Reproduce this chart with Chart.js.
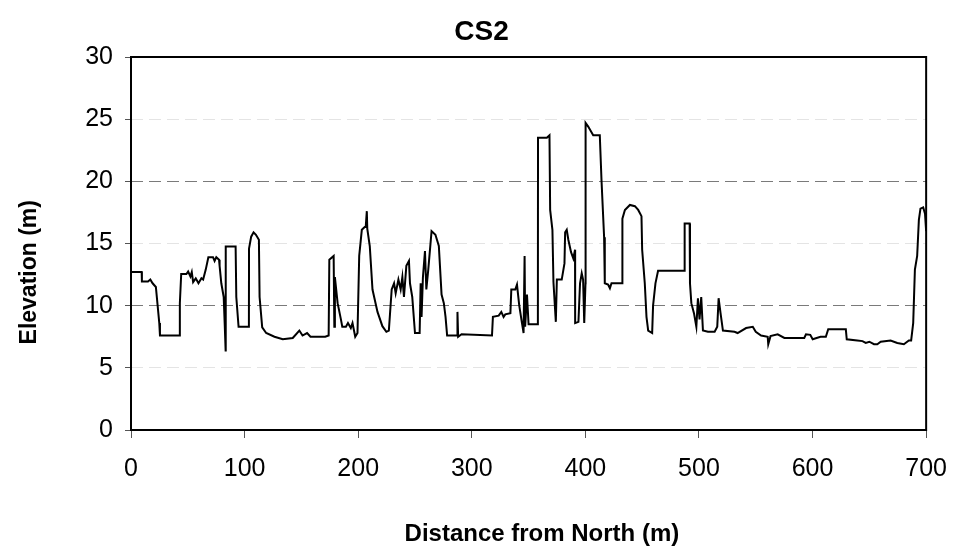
<!DOCTYPE html>
<html>
<head>
<meta charset="utf-8">
<script src="https://cdn.jsdelivr.net/npm/chart.js@4.4.1/dist/chart.umd.min.js"></script>
<style>
  html, body { margin: 0; padding: 0; background: #fff; }
  #wrap { width: 963px; height: 558px; }
</style>
</head>
<body>
<div id="wrap"><canvas id="myChart" width="963" height="558"></canvas></div>
<script>
// Cross-section profile
const chartTitle = 'CS2';
const xTitle = 'Distance from North (m)';
const yTitle = 'Elevation (m)';
const xTicks = [0, 100, 200, 300, 400, 500, 600, 700];
const yTicks = [0, 5, 10, 15, 20, 25, 30];

const distance = [
  0, 9.4, 9.6, 15, 17, 19, 21.9, 24.9, 25.5, 42.4, 43, 44.2, 48.8, 50.3, 52.3, 53.5, 54.7, 57, 59.4, 62,
  63.5, 65.8, 68.1, 72.2, 73.6, 75.1, 77.5, 78, 79.5, 81.6, 82.5, 83.3, 83.4, 92.1, 92.7, 94.7, 103.8, 103.9, 105.8, 107.9,
  110, 112.6, 113.2, 115.5, 119, 126.3, 133.6, 142.4, 148.2, 151, 155, 158, 171, 174, 174.6, 178.4, 179, 179.5, 181.9, 184.8,
  186, 189.2, 191, 193.5, 195, 197.4, 199.4, 200.9, 203.2, 206.7, 207.6, 208, 210.2, 212.6, 217, 221.3, 224.8, 227, 229.5, 231.6,
  233, 235.4, 237.4, 238.9, 240.3, 242.4, 244.7, 245.6, 247.6, 250, 254.1, 255, 255.8, 257, 258.8, 260, 261.7, 264.6, 268, 271,
  273.4, 275.4, 276.9, 278.3, 287, 287.4, 288, 291, 317.8, 318.6, 323.7, 326, 328, 329.5, 334, 334.8, 338.3, 339.8, 341.8, 344.2,
  345.6, 346.5, 347, 348.6, 350, 358.2, 358.3, 366.1, 368.4, 369, 371, 371.9, 374, 374.9, 379.2, 381.6, 382.2, 383.6, 385, 387.4,
  389.4, 390.9, 391, 393.9, 395.3, 396.8, 398, 399, 400.1, 400.2, 402.5, 406.9, 412.7, 414.2, 416.5, 417.1, 420, 421.6, 423, 432.5,
  432.6, 434.8, 439.2, 443.6, 446.5, 449.4, 450, 452.3, 453.8, 455.3, 458.8, 459.6, 461.7, 464, 486.9, 487.4, 491.8, 492.1, 493.3, 495.6,
  497.7, 499.1, 500.5, 502, 503.5, 507.9, 513.8, 516.1, 517.3, 519, 521.1, 531.3, 534, 541.5, 547.4, 550, 554.7, 560.5, 561, 563,
  569.3, 575.2, 592.7, 594.2, 598, 600.1, 607, 611.7, 613.8, 629.3, 630.1, 639.4, 644, 646.8, 650, 654.1, 657, 660, 668.7, 674.6,
  680.4, 684.8, 686.8, 688.6, 690.1, 692.1, 693.6, 695, 697.4, 699, 700
];
const elevation = [
  12.7, 12.7, 11.95, 11.95, 12.1, 11.8, 11.5, 8.6, 7.6, 7.6, 10.2, 12.55, 12.55, 12.75, 12.35, 12.7, 11.9, 12.2, 11.8, 12.2,
  12.1, 12.9, 13.9, 13.9, 13.6, 13.9, 13.7, 13.2, 11.8, 10.7, 8.5, 6.4, 14.75, 14.75, 10.7, 8.3, 8.3, 14.6, 15.55, 15.9,
  15.7, 15.3, 10.7, 8.25, 7.8, 7.5, 7.3, 7.4, 8.0, 7.6, 7.8, 7.5, 7.5, 7.6, 13.7, 14.0, 8.3, 12.3, 10.2, 8.9,
  8.3, 8.3, 8.6, 8.2, 8.6, 7.5, 7.8, 14.0, 16.1, 16.4, 17.6, 16.2, 14.8, 11.3, 9.5, 8.35, 7.9, 8.0, 11.3, 11.8,
  11.0, 12.1, 11.3, 12.3, 10.7, 13.2, 13.6, 11.8, 10.7, 7.8, 7.8, 11.8, 9.1, 12.3, 14.4, 11.3, 12.9, 16.0, 15.7, 14.8,
  10.9, 10.2, 9.1, 7.6, 7.6, 9.5, 7.5, 7.7, 7.6, 9.1, 9.2, 9.5, 9.1, 9.3, 9.4, 11.3, 11.3, 11.7, 10.0, 8.6,
  7.8, 14.0, 8.3, 10.9, 8.5, 8.5, 23.5, 23.5, 23.7, 17.7, 16.1, 11.9, 8.7, 12.1, 12.1, 13.4, 15.9, 16.1, 15.3, 14.3,
  13.8, 14.5, 8.6, 8.7, 11.8, 12.6, 12.1, 8.6, 11.8, 24.7, 24.4, 23.7, 23.7, 20.1, 15.5, 11.8, 11.7, 11.4, 11.8, 11.8,
  17.0, 17.7, 18.1, 18.0, 17.7, 17.2, 14.5, 11.8, 9.1, 8.0, 7.8, 10.0, 11.8, 12.8, 12.8, 16.6, 16.6, 11.8, 10.2, 9.4,
  8.3, 10.6, 8.9, 10.7, 8.0, 7.9, 7.9, 8.3, 10.6, 9.4, 8.0, 7.9, 7.8, 8.2, 8.3, 7.9, 7.6, 7.5, 6.9, 7.55,
  7.7, 7.4, 7.4, 7.7, 7.65, 7.3, 7.5, 7.5, 8.1, 8.1, 7.3, 7.2, 7.15, 7.0, 7.1, 6.9, 6.9, 7.1, 7.2, 7.0,
  6.9, 7.2, 7.2, 8.6, 12.9, 14.0, 16.9, 17.8, 17.9, 17.4, 16.0
];

const FONT = '"Liberation Sans", Arial, sans-serif';

// black frame around the plot area
const framePlugin = {
  id: 'frame',
  afterDatasetsDraw(chart) {
    const a = chart.chartArea;
    const ctx = chart.ctx;
    ctx.save();
    ctx.strokeStyle = '#000';
    ctx.lineWidth = 2;
    ctx.strokeRect(a.left, a.top, a.right - a.left, a.bottom - a.top);
    ctx.restore();
  }
};

const ctx = document.getElementById('myChart').getContext('2d');
const myChart = new Chart(ctx, {
  type: 'line',
  data: {
    datasets: [{
      label: chartTitle,
      data: distance.map((d, i) => ({ x: d, y: elevation[i] })),
      borderColor: '#000',
      borderWidth: 2,
      pointRadius: 0,
      tension: 0,
      fill: false,
      xAxisID: 'x',
      yAxisID: 'y'
    }]
  },
  options: {
    responsive: false,
    animation: false,
    devicePixelRatio: 1,
    layout: { padding: 0 },
    plugins: {
      legend: { display: false },
      tooltip: { enabled: false },
      title: {
        display: true,
        text: chartTitle,
        color: '#000',
        font: { family: FONT, size: 28, weight: 'bold', lineHeight: 1.2 },
        padding: { top: 15, bottom: 8.4 }
      }
    },
    scales: {
      x: {
        type: 'linear',
        min: 0,
        max: 700,
        afterBuildTicks: (s) => { s.ticks = xTicks.map(v => ({ value: v })); },
        afterFit: (s) => { s.height = 128; },
        ticks: {
          color: '#000',
          padding: 16,
          maxRotation: 0,
          font: { family: FONT, size: 25 }
        },
        grid: { drawOnChartArea: false, drawTicks: true, tickLength: 8, tickColor: '#555' },
        border: { display: false },
        title: {
          display: true,
          text: '    ' + xTitle,
          color: '#000',
          font: { family: FONT, size: 24, weight: 'bold', lineHeight: 1.2 },
          padding: { top: 0, bottom: 9 }
        }
      },
      y: {
        type: 'linear',
        min: 0,
        max: 30,
        afterBuildTicks: (s) => { s.ticks = yTicks.map(v => ({ value: v })); },
        afterFit: (s) => { s.width = 131; },
        ticks: {
          color: '#000',
          padding: 12,
          font: { family: FONT, size: 25 }
        },
        grid: {
          tickLength: 6,
          tickColor: '#555',
          color: (c) => {
            const v = c.tick ? c.tick.value : 0;
            if (v === 0 || v === 30) return 'rgba(0,0,0,0)';
            return v % 10 === 0 ? '#7a7a7a' : '#e4e4e4';
          }
        },
        border: { display: false, dash: [12, 6] },
        title: {
          display: true,
          text: yTitle + '         ',
          color: '#000',
          font: { family: FONT, size: 23, weight: 'bold', lineHeight: 1.2 },
          padding: { top: 16, bottom: 0 }
        }
      },
      // empty right-hand axis only reserves the margin on the right
      yRight: {
        type: 'linear',
        position: 'right',
        display: true,
        afterFit: (s) => { s.width = 34; },
        ticks: { display: false },
        grid: { display: false, drawTicks: false },
        border: { display: false }
      }
    }
  },
  plugins: [framePlugin]
});
</script>
</body>
</html>
